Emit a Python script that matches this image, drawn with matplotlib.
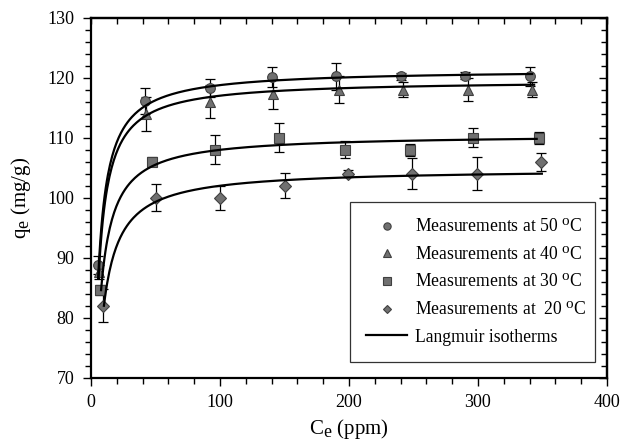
import numpy as np
import matplotlib
matplotlib.use("Agg")
import matplotlib.pyplot as plt
import matplotlib._mathtext as mathtext_internal
from matplotlib.ticker import MultipleLocator

plt.rcParams['font.family'] = ['Liberation Serif', 'DejaVu Serif']
plt.rcParams['mathtext.fontset'] = 'custom'
plt.rcParams['mathtext.rm'] = 'Liberation Serif'
plt.rcParams['mathtext.it'] = 'Liberation Serif:italic'
# larger super/subscripts, as in the original figure
mathtext_internal.SHRINK_FACTOR = 0.85

# measured points (Ce in ppm, qe in mg/g, error)
c50 = [5.5, 42, 92, 140, 190, 240, 290, 340]
q50 = [88.8, 116.1, 118.2, 120.1, 120.2, 120.2, 120.3, 120.2]
e50 = [1.5, 2.1, 1.5, 1.7, 2.2, 0.6, 0.6, 1.6]

c40 = [6.2, 43, 92, 141, 192, 242, 292, 342]
q40 = [87.6, 113.9, 116.0, 117.2, 118.0, 118.0, 118.0, 118.0]
e40 = [1.2, 2.8, 2.7, 2.5, 2.2, 1.2, 1.9, 1.2]

c30 = [7, 47, 96, 146, 197, 247, 296, 347]
q30 = [84.6, 106.0, 108.0, 110.0, 108.0, 108.0, 110.0, 110.0]
e30 = [0.8, 0.7, 2.4, 2.4, 1.4, 1.0, 1.6, 1.0]

c20 = [9.5, 50, 100, 150, 199, 249, 299, 349]
q20 = [82.0, 100.0, 100.0, 102.0, 104.0, 104.0, 104.0, 106.0]
e20 = [2.7, 2.2, 2.0, 2.1, 0.6, 2.6, 2.7, 1.5]

labels = ["Measurements at 50 $^\\mathrm{o}$C", "Measurements at 40 $^\\mathrm{o}$C",
          "Measurements at 30 $^\\mathrm{o}$C", "Measurements at  20 $^\\mathrm{o}$C"]
markers = ['o', '^', 's', 'D']

# Langmuir fit parameters: qm, K, start Ce, end Ce
qm = [121.4, 119.6, 110.56, 104.83]
kl = [0.45, 0.45, 0.4177, 0.359]
c_start = [5.5, 5.8, 7.8, 10.0]
c_end = [342, 343.5, 345.5, 349.5]

fig = plt.figure(figsize=(6.29, 4.42), dpi=100)
ax = fig.add_axes([0.1447, 0.1455, 0.8203, 0.8145])

data = [(c50, q50, e50), (c40, q40, e40), (c30, q30, e30), (c20, q20, e20)]
handles = []
for (c, q, e), m, lab in zip(data, markers, labels):
    ms = 6.0 if m == 'D' else 7.0
    ax.errorbar(c, q, yerr=e, fmt='none', ecolor='black', elinewidth=0.9,
                capsize=3.6, capthick=0.9, zorder=2)
    h, = ax.plot(c, q, linestyle='none', marker=m, markersize=ms,
                 markerfacecolor='#707070', markeredgecolor='#404040',
                 markeredgewidth=0.8, zorder=3, label=lab)
    handles.append(h)

for i in range(4):
    cc = np.linspace(c_start[i], c_end[i], 400)
    qq = qm[i] * kl[i] * cc / (1 + kl[i] * cc)
    line, = ax.plot(cc, qq, color='black', linewidth=1.6, zorder=4)
handles.append(line)

ax.set_xlim(0, 400)
ax.set_ylim(70, 130)
ax.xaxis.set_major_locator(MultipleLocator(100))
ax.xaxis.set_minor_locator(MultipleLocator(20))
ax.yaxis.set_major_locator(MultipleLocator(10))
ax.yaxis.set_minor_locator(MultipleLocator(2))

ax.tick_params(axis='both', which='both', labelsize=13, color='black')
ax.tick_params(axis='both', which='major', length=6, width=1.0, pad=6)
ax.tick_params(axis='both', which='minor', length=4, width=1.0)
ax.tick_params(axis='x', which='both', direction='out', top=False)
ax.tick_params(axis='y', which='both', direction='out', right=False)

# inward ticks on top and right
sec_x = ax.secondary_xaxis('top')
sec_x.xaxis.set_major_locator(MultipleLocator(20))
sec_x.tick_params(direction='in', length=4, width=1.0, labeltop=False)
sec_y = ax.secondary_yaxis('right')
sec_y.yaxis.set_major_locator(MultipleLocator(10))
sec_y.yaxis.set_minor_locator(MultipleLocator(2))
sec_y.tick_params(which='major', direction='in', length=6, width=1.0, labelright=False)
sec_y.tick_params(which='minor', direction='in', length=4, width=1.0)
for s in ['bottom', 'left', 'top', 'right']:
    ax.spines[s].set_linewidth(1.6)
sec_x.spines['top'].set_linewidth(1.6)
sec_y.spines['right'].set_linewidth(1.6)

ax.set_xlabel("C$_\\mathrm{e}$ (ppm)", fontsize=15, labelpad=4)
ax.set_ylabel("q$_\\mathrm{e}$ (mg/g)", fontsize=15, labelpad=10)

leg = ax.legend(handles, labels + ["Langmuir isotherms"], loc='lower left',
                bbox_to_anchor=(0.502, 0.0436, 0.475, 0.44), mode='expand',
                fontsize=12.7, frameon=True, fancybox=False, edgecolor='black',
                markerscale=0.75, handlelength=2.3, handletextpad=0.45,
                borderpad=0.93, labelspacing=0.55, borderaxespad=0)
leg.get_frame().set_linewidth(0.9)

fig.savefig("out.png", dpi=100)
